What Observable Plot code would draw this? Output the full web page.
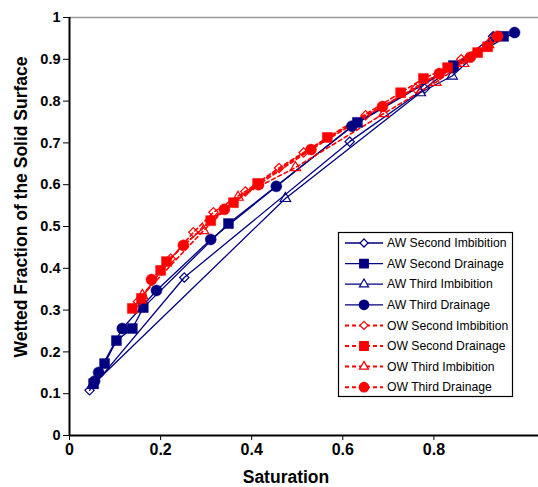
<!DOCTYPE html>
<html><head><meta charset="utf-8">
<script src="https://cdn.jsdelivr.net/npm/d3@7"></script>
<script src="https://cdn.jsdelivr.net/npm/@observablehq/plot@0.6"></script>
<style>
body{margin:0;background:#fff;}
#wrap{position:relative;width:538px;height:487px;font-family:"Liberation Sans",Arial,sans-serif;}
</style></head><body><div id="wrap"></div>
<script>
const navy = "#000080", red = "#ff0000";
const seriesNames = ["AW Second Imbibition","AW Second Drainage","AW Third Imbibition","AW Third Drainage","OW Second Imbibition","OW Second Drainage","OW Third Imbibition","OW Third Drainage"];
const aw2iS = [0.044, 0.252, 0.615, 0.78, 0.93];
const aw2iW = [0.108, 0.378, 0.703, 0.83, 0.955];
const aw2dS = [0.053, 0.077, 0.103, 0.138, 0.162, 0.349, 0.632, 0.843, 0.953];
const aw2dW = [0.124, 0.172, 0.227, 0.256, 0.306, 0.507, 0.749, 0.885, 0.955];
const aw3iS = [0.05, 0.474, 0.77, 0.84, 0.93];
const aw3iW = [0.12, 0.567, 0.82, 0.86, 0.95];
const aw3dS = [0.055, 0.064, 0.116, 0.191, 0.31, 0.454, 0.62, 0.84, 0.977];
const aw3dW = [0.13, 0.151, 0.256, 0.347, 0.469, 0.596, 0.74, 0.88, 0.964];
const ow2iS = [0.15, 0.222, 0.272, 0.316, 0.386, 0.46, 0.514, 0.65, 0.76, 0.86, 0.93];
const ow2iW = [0.32, 0.423, 0.486, 0.534, 0.584, 0.64, 0.677, 0.766, 0.83, 0.9, 0.95];
const ow2dS = [0.138, 0.158, 0.2, 0.213, 0.31, 0.36, 0.413, 0.566, 0.727, 0.777, 0.83, 0.896, 0.918];
const ow2dW = [0.304, 0.328, 0.395, 0.416, 0.514, 0.557, 0.603, 0.713, 0.82, 0.854, 0.88, 0.916, 0.93];
const ow3iS = [0.16, 0.294, 0.37, 0.496, 0.69, 0.804, 0.865, 0.92];
const ow3iW = [0.335, 0.49, 0.57, 0.641, 0.77, 0.845, 0.89, 0.935];
const ow3dS = [0.18, 0.25, 0.34, 0.415, 0.53, 0.687, 0.812, 0.88, 0.94];
const ow3dW = [0.373, 0.455, 0.541, 0.6, 0.684, 0.787, 0.866, 0.905, 0.955];
const xTicks = [0, 0.2, 0.4, 0.6, 0.8];
const yTicks = [0, 0.1, 0.2, 0.3, 0.4, 0.5, 0.6, 0.7, 0.8, 0.9, 1];

const styles = [
  {s:aw2iS,w:aw2iW,color:navy,dash:null,symbol:"diamond2",fill:"white",r:4.2},
  {s:aw2dS,w:aw2dW,color:navy,dash:null,symbol:"square",fill:navy,r:5.6},
  {s:aw3iS,w:aw3iW,color:navy,dash:null,symbol:"triangle2",fill:"white",r:5},
  {s:aw3dS,w:aw3dW,color:navy,dash:null,symbol:"circle",fill:navy,r:5.5},
  {s:ow2iS,w:ow2iW,color:red,dash:"4,3",symbol:"diamond2",fill:"white",r:4.2},
  {s:ow2dS,w:ow2dW,color:red,dash:"4,3",symbol:"square",fill:red,r:5.6},
  {s:ow3iS,w:ow3iW,color:red,dash:"4,3",symbol:"triangle2",fill:"white",r:5},
  {s:ow3dS,w:ow3dW,color:red,dash:"4,3",symbol:"circle",fill:red,r:5.5}
];
const data = styles.map((st,i)=>st.s.map((s,j)=>({name:seriesNames[i],S:s,W:st.w[j]})));

const marks = [
  Plot.ruleY([1], {stroke:"#999", strokeWidth:1.5}),
];
styles.forEach((st,i)=>{
  marks.push(Plot.line(data[i], {x:"S", y:"W", stroke:st.color, strokeWidth: st.dash?1.6:1.3, strokeDasharray: st.dash}));
});
styles.forEach((st,i)=>{
  marks.push(Plot.dot(data[i], {x:"S", y:"W", symbol:()=>st.symbol, r:st.r, stroke:st.color, fill:st.fill, strokeWidth: st.fill==="white"?1.2:0.5, fillOpacity: st.fill==="white"?0:1}));
});
marks.push(
  Plot.axisX({ticks:xTicks, tickFormat:d=>String(d), tickSize:5, tickPadding:3, stroke:"#000", label:null, fontSize:16, fontWeight:"bold"}),
  Plot.axisY({ticks:yTicks, tickFormat:d=>String(+d.toFixed(1)), tickSize:6, tickPadding:3, stroke:"#000", label:null, fontSize:14.5, fontWeight:"bold"}),
  Plot.ruleX([0], {stroke:"#000", strokeWidth:2}),
  Plot.ruleY([0], {stroke:"#000", strokeWidth:2})
);

const chart = Plot.plot({
  width:538, height:487,
  marginLeft:69, marginRight:0, marginTop:17, marginBottom:52,
  x:{domain:[0,1.0296]},
  y:{domain:[0,1]},
  style:{fontFamily:"'Liberation Sans', Arial, sans-serif", fontSize:"14px", fontWeight:"bold", color:"#000", background:"#fff", overflow:"visible"},
  marks
});
const wrap = document.getElementById("wrap");
wrap.appendChild(chart);

const svg = d3.select(chart);
svg.append("text").attr("x", 286).attr("y", 483).attr("text-anchor","middle")
  .attr("font-size",17.5).attr("font-weight","bold").attr("fill","#000").text("Saturation");
svg.append("text").attr("transform","translate(27,207) rotate(-90)").attr("text-anchor","middle")
  .attr("font-size",17.5).attr("font-weight","bold").attr("fill","#000").text("Wetted Fraction of the Solid Surface");

// legend
const lg = svg.append("g").attr("transform","translate(338,232)");
lg.append("rect").attr("x",0.5).attr("y",0.5).attr("width",174).attr("height",164).attr("fill","#fff").attr("stroke","#000").attr("stroke-width",1.2);
styles.forEach((st,i)=>{
  const y = 11 + i*20.6;
  lg.append("line").attr("x1",7).attr("x2",45).attr("y1",y).attr("y2",y)
    .attr("stroke",st.color).attr("stroke-width",st.dash?2:1.3).attr("stroke-dasharray",st.dash);
  const sym = {diamond2:d3.symbolDiamond2,square:d3.symbolSquare,triangle2:d3.symbolTriangle2,circle:d3.symbolCircle}[st.symbol];
  const size = Math.PI*st.r*st.r*0.75;
  lg.append("path").attr("d", d3.symbol(sym, size)()).attr("transform",`translate(26,${y})`)
    .attr("fill", st.fill==="white"?"#fff":st.fill).attr("stroke",st.color).attr("stroke-width",1.2);
  lg.append("text").attr("x",49).attr("y",y+4.2).attr("text-anchor","start").attr("font-size",12.2).attr("font-weight","normal").attr("fill","#000").text(seriesNames[i]);
});
</script></body></html>
